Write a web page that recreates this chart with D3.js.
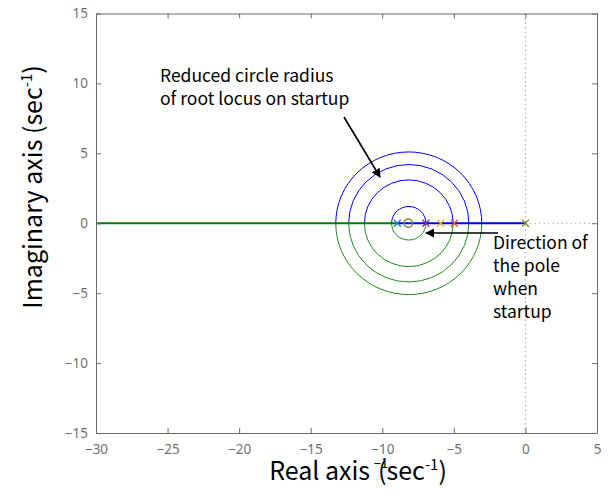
<!DOCTYPE html>
<html>
<head>
<meta charset="utf-8">
<script src="https://cdn.jsdelivr.net/npm/d3@7"></script>
<style>
  html, body { margin: 0; padding: 0; background: #fff; }
  svg { display: block; }
</style>
</head>
<body>
<svg id="chart" width="611" height="494"></svg>
<script>
// Axis ticks
const xTicks = [-30, -25, -20, -15, -10, -5, 0, 5];
const yTicks = [-15, -10, -5, 0, 5, 10, 15];

// Root locus branches: circles about a common centre (radius shrinks on startup)
const locusCentre = -8.15;
const locusRadii = [1.2, 3.1, 4.2, 5.1];

// Real-axis branches
const realAxisGreen = [-30, -8.95];
const realAxisBlue = [-8.95, 0];

// Open-loop poles (x markers) and zero (o marker)
const poleRe = [-8.95, -6.95, -5.92, -4.97, 0];
const poleColors = ["#1f7fd0", "#7E2F8E", "#EDB120", "#D95319", "#8f9030"];
const zeroRe = [-8.18];
const zeroColors = ["#7a8a30"];

const svg = d3.select("#chart");
const margin = { left: 96, right: 14, top: 13.5, bottom: 61 };
const W = 611, H = 494;
const x = d3.scaleLinear().domain([-30, 5]).range([margin.left, W - margin.right]);
const y = d3.scaleLinear().domain([-15, 15]).range([H - margin.bottom, margin.top]);

const axisColor = "#6a6a6a";
const tickFont = "'Noto Sans', 'DejaVu Sans', sans-serif";

// Dotted zero lines
svg.append("line")
  .attr("x1", x(0)).attr("x2", x(0))
  .attr("y1", y(15)).attr("y2", y(-15))
  .attr("stroke", "#b0b0b0").attr("stroke-width", 1.2)
  .attr("stroke-dasharray", "1.5,3");
svg.append("line")
  .attr("x1", x(0)).attr("x2", x(5))
  .attr("y1", y(0)).attr("y2", y(0))
  .attr("stroke", "#b0b0b0").attr("stroke-width", 1.2)
  .attr("stroke-dasharray", "1.5,3");

// Circle branches: upper half blue, lower half green
const cx = x(locusCentre), cy = y(0);
locusRadii.forEach(r => {
  const rx = x(locusCentre + r) - cx;
  const ry = cy - y(r);
  svg.append("path")
    .attr("d", `M${cx - rx},${cy} A${rx},${ry} 0 0 1 ${cx + rx},${cy}`)
    .attr("fill", "none").attr("stroke", "#0000ff").attr("stroke-width", 1);
  svg.append("path")
    .attr("d", `M${cx - rx},${cy} A${rx},${ry} 0 0 0 ${cx + rx},${cy}`)
    .attr("fill", "none").attr("stroke", "#1f8a1f").attr("stroke-width", 1);
});

// Real-axis branches
svg.append("line")
  .attr("x1", x(realAxisGreen[0])).attr("x2", x(realAxisGreen[1]))
  .attr("y1", y(0)).attr("y2", y(0))
  .attr("stroke", "#007a00").attr("stroke-width", 2);
svg.append("line")
  .attr("x1", x(realAxisBlue[0])).attr("x2", x(realAxisBlue[1]))
  .attr("y1", y(0)).attr("y2", y(0))
  .attr("stroke", "#0000ff").attr("stroke-width", 2);

// Pole markers
const s = 3.5;
poleRe.forEach((p, i) => {
  const px = x(p), py = y(0);
  svg.append("path")
    .attr("d", `M${px - s},${py - s}L${px + s},${py + s}M${px - s},${py + s}L${px + s},${py - s}`)
    .attr("stroke", poleColors[i]).attr("stroke-width", 1.4).attr("fill", "none");
});
// Zero markers
zeroRe.forEach((z, i) => {
  svg.append("circle")
    .attr("cx", x(z)).attr("cy", y(0)).attr("r", 4.2)
    .attr("fill", "none").attr("stroke", zeroColors[i]).attr("stroke-width", 1.4);
});

// Axes box with inward ticks
const fmt = d => d < 0 ? "\u2212" + Math.abs(d) : d;
const gx = svg.append("g").attr("transform", `translate(0,${y(-15)})`)
  .call(d3.axisBottom(x).tickValues(xTicks).tickSizeInner(-5).tickSizeOuter(0).tickPadding(11).tickFormat(fmt));
const gy = svg.append("g").attr("transform", `translate(${x(-30)},0)`)
  .call(d3.axisLeft(y).tickValues(yTicks).tickSizeInner(-5).tickSizeOuter(0).tickPadding(8).tickFormat(fmt));
const gxt = svg.append("g").attr("transform", `translate(0,${y(15)})`)
  .call(d3.axisTop(x).tickValues(xTicks).tickSizeInner(-5).tickSizeOuter(0).tickFormat(""));
const gyr = svg.append("g").attr("transform", `translate(${x(5)},0)`)
  .call(d3.axisRight(y).tickValues(yTicks).tickSizeInner(-5).tickSizeOuter(0).tickFormat(""));
[gx, gy, gxt, gyr].forEach(g => {
  g.select(".domain").attr("stroke", axisColor).attr("stroke-width", 1);
  g.selectAll(".tick line").attr("stroke", axisColor);
  g.selectAll(".tick text").attr("fill", "#707070")
    .style("font-family", tickFont).style("font-size", "13.5px");
});

// Axis titles
const labelFont = "'Noto Sans CJK KR', 'Noto Sans', sans-serif";
const xl = svg.append("text")
  .attr("x", 358).attr("y", 480)
  .attr("text-anchor", "middle")
  .style("font-family", labelFont).style("font-size", "25px").attr("fill", "#000");
xl.append("tspan").text("Real axis ");
xl.append("tspan").text("\u22121").attr("dy", -12).attr("dx", -2).style("font-size", "13px");
xl.append("tspan").text("(sec").attr("dy", 12).attr("dx", -10);
xl.append("tspan").text("-1").attr("dy", -10).style("font-size", "15px");
xl.append("tspan").text(")").attr("dy", 10);

const yl = svg.append("text")
  .attr("transform", `translate(42,187) rotate(-90)`)
  .attr("text-anchor", "middle")
  .style("font-family", labelFont).style("font-size", "25px").attr("fill", "#000");
yl.append("tspan").text("Imaginary axis (sec");
yl.append("tspan").text("-1").attr("dy", -10).style("font-size", "15px");
yl.append("tspan").text(")").attr("dy", 10);

// Annotations
const noteFont = "'Noto Sans CJK KR', 'Noto Sans', sans-serif";
svg.append("defs").append("marker")
  .attr("id", "head").attr("viewBox", "0 0 10 10")
  .attr("refX", 9).attr("refY", 5)
  .attr("markerWidth", 9).attr("markerHeight", 9)
  .attr("markerUnits", "userSpaceOnUse")
  .attr("orient", "auto")
  .append("path").attr("d", "M0,0L10,5L0,10z").attr("fill", "#000");

const note1 = svg.append("text")
  .style("font-family", noteFont).style("font-size", "17.5px").attr("fill", "#000");
note1.append("tspan").attr("x", 160).attr("y", 82).text("Reduced circle radius");
note1.append("tspan").attr("x", 160).attr("y", 105).text("of root locus on startup");
svg.append("line")
  .attr("x1", 344).attr("y1", 117).attr("x2", 380).attr("y2", 177)
  .attr("stroke", "#000").attr("stroke-width", 1.6).attr("marker-end", "url(#head)");

const note2 = svg.append("text")
  .style("font-family", noteFont).style("font-size", "17.5px").attr("fill", "#000");
["Direction of", "the pole", "when", "startup"].forEach((t, i) => {
  note2.append("tspan").attr("x", 493).attr("y", 249 + i * 23).text(t);
});
svg.append("line")
  .attr("x1", 498).attr("y1", 233).attr("x2", 426).attr("y2", 233)
  .attr("stroke", "#000").attr("stroke-width", 1.6).attr("marker-end", "url(#head)");
</script>
</body>
</html>
